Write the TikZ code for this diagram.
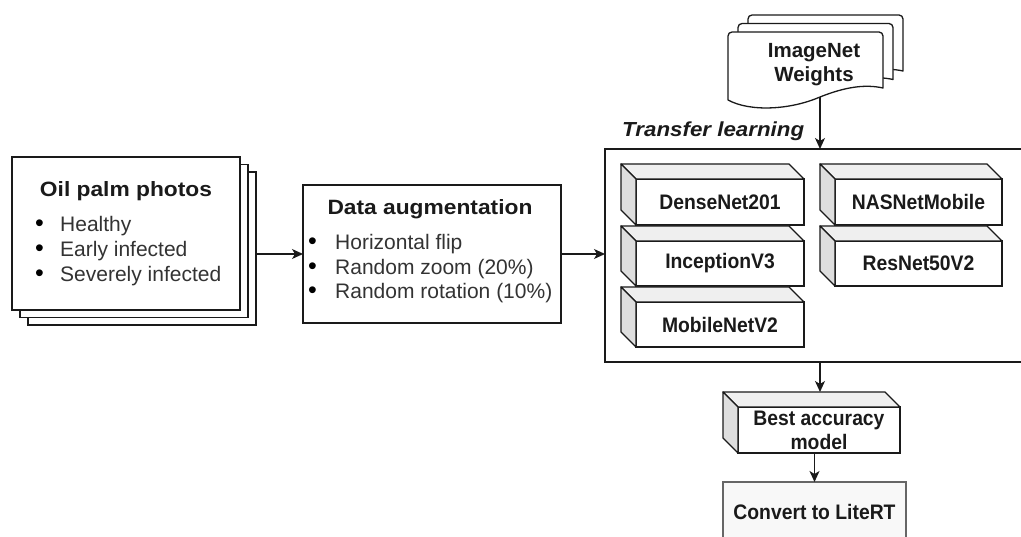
\documentclass[tikz,border=0pt]{standalone}
\usepackage{fontspec}
\setmainfont{Liberation Sans}
\newfontfamily\headfont[FakeStretch=1.1]{Liberation Sans}
\newfontfamily\labfont[FakeStretch=0.92]{Liberation Sans}
\usetikzlibrary{arrows.meta,calc}

\definecolor{inkc}{HTML}{1A1A1A}
\definecolor{listc}{HTML}{333333}
\definecolor{topc}{HTML}{EFEFEF}
\definecolor{sidec}{HTML}{DEDEDE}
\definecolor{convc}{HTML}{F8F8F8}

% top and left faces of a cuboid whose front face is node #1
\newcommand\cubefaces[1]{%
  \filldraw[face, fill=topc] ($(#1.north west)+(-15,-15)$) -- ($(#1.north east)+(-15,-15)$)
      -- (#1.north east) -- (#1.north west) -- cycle;
  \filldraw[face, fill=sidec] ($(#1.north west)+(-15,-15)$) -- (#1.north west)
      -- (#1.south west) -- ($(#1.south west)+(-15,-15)$) -- cycle;
}
% one sheet of the document stack
\newcommand\docsheet{%
  \filldraw[face, fill=white] (728,100) [rounded corners=4pt] -- (728,32) -- (883,32)
      [sharp corners] -- (883,88)
      .. controls (865,84) and (845,87) .. (820,97)
      .. controls (790,110) and (750,112) .. (728,100) -- cycle;
}
% list bullet
\newcommand\blt[1]{\makebox[#1][l]{\textcolor{black}{\fontsize{25}{25}\selectfont •}}}

\begin{document}
\begin{tikzpicture}[x=1pt, y=-1pt,
  face/.style={draw=inkc, line width=1.3pt, line join=round},
  box/.style={draw=inkc, fill=white, line width=1.3pt, inner sep=0pt, outer sep=0pt},
  front/.style={box, minimum width=168pt, minimum height=46pt, align=center,
    text=inkc, font=\labfont\bfseries\fontsize{21}{24}\selectfont},
  head/.style={inner sep=0pt, text=inkc, font=\headfont\bfseries\fontsize{20.7}{24}\selectfont},
  item/.style={inner sep=0pt, anchor=base west, text=listc, font=\fontsize{21}{25}\selectfont},
  arr/.style={draw=inkc, line width=1.3pt, -{Stealth[length=11pt, width=10pt, inset=3pt]}}]

\useasboundingbox (0,0) rectangle (1021,537);

% ---- input photos (stack of three sheets)
\node[box, minimum width=228pt, minimum height=153pt] (oil3) at (142,248.5) {};
\node[box, minimum width=228pt, minimum height=153pt] (oil2) at (134,241) {};
\node[box, minimum width=228pt, minimum height=153pt] (oil1) at (126,233.5) {};
\node[head, anchor=base] (oiltitle) at (126,197) {Oil palm photos};
\node[item] (op1) at (35,232) {\blt{25pt}Healthy};
\node[item] (op2) at (35,257) {\blt{25pt}Early infected};
\node[item] (op3) at (35,282) {\blt{25pt}Severely infected};

% ---- augmentation
\node[box, minimum width=258pt, minimum height=138pt] (aug) at (432,254) {};
\node[head, anchor=base] (augtitle) at (430,215) {Data augmentation};
\node[item] (ag1) at (308,250) {\blt{27pt}Horizontal flip};
\node[item] (ag2) at (308,274.5) {\blt{27pt}Random zoom (20\%)};
\node[item] (ag3) at (308,299) {\blt{27pt}Random rotation (10\%)};

% ---- transfer learning container
\node[box, minimum width=430pt, minimum height=213pt] (tl) at (820,255.5) {};
\node[head, anchor=base west, font=\headfont\bfseries\itshape\fontsize{20.3}{24}\selectfont]
  (tltitle) at (622,137) {Transfer learning};

% ---- pretrained weights (document stack)
\begin{scope}[shift={(20,-17)}]\docsheet\end{scope}
\begin{scope}[shift={(10,-8.5)}]\docsheet\end{scope}
\docsheet
\node[inner sep=0pt, align=center, text=inkc,
  font=\bfseries\fontsize{20.5}{24}\selectfont] (imgw) at (814,65) {ImageNet\\Weights};
\coordinate (docbot) at (820,97);

% ---- backbone models
\node[front] (dense)  at (720,202)   {DenseNet201};
\node[front, minimum height=45pt] (incep)  at (720,263.5) {InceptionV3};
\node[front, minimum height=45pt] (mobile) at (720,324.5) {MobileNetV2};
\node[front, minimum width=167pt] (nas) at (918.5,202) {NASNetMobile};
\node[front, minimum width=167pt, minimum height=45pt] (res) at (918.5,263.5) {ResNet50V2};
\foreach \n in {dense,incep,mobile,nas,res} {\cubefaces{\n}}

% ---- selection and export
\node[front, minimum width=162pt] (best) at (819,430) {Best accuracy\\model};
\cubefaces{best}
\coordinate (besttop) at (820,392);
\node[box, draw=black!60, fill=convc, minimum width=183pt, minimum height=60pt,
  text=inkc, font=\labfont\bfseries\fontsize{21}{24}\selectfont] (conv) at (814.5,512) {Convert to LiteRT};

% ---- connectors
\draw[arr] (oil3.east |- aug.west) -- (aug.west);
\draw[arr] (aug.east) -- (aug.east -| tl.west);
\draw[arr] (docbot) -- (tl.north);
\draw[arr] (tl.south) -- (besttop);
\draw[arr] (best.south -| conv.north) -- (conv.north);
\end{tikzpicture}
\end{document}
